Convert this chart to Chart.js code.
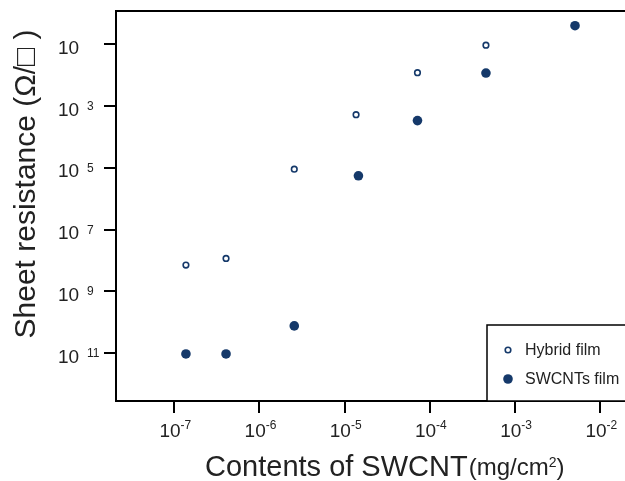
<!DOCTYPE html>
<html>
<head>
<meta charset="utf-8">
<script src="https://cdn.jsdelivr.net/npm/chart.js@4/dist/chart.umd.min.js"></script>
<style>
html,body{margin:0;padding:0;background:#fff;overflow:hidden;}
canvas{display:block;}
</style>
</head>
<body>
<canvas id="c" width="625" height="481"></canvas>
<script>
// ---- data ----
const hybridX = [1.37e-7, 4.05e-7, 2.56e-6, 1.36e-5, 7.15e-5, 4.55e-4];
const hybridY = [1.4e8, 8.5e7, 1.1e5, 1.9e3, 83, 10.7];
const swcntX  = [1.37e-7, 4.05e-7, 2.56e-6, 1.45e-5, 7.15e-5, 4.55e-4, 5.05e-3];
const swcntY  = [1.05e11, 1.05e11, 1.3e10, 1.8e5, 2.95e3, 85, 2.5];
const seriesNames = ['Hybrid film', 'SWCNTs film'];
const xTickValues = [1e-7, 1e-6, 1e-5, 1e-4, 1e-3, 1e-2];
const xTickExp = ['-7', '-6', '-5', '-4', '-3', '-2'];
const yTickValues = [1e1, 1e3, 1e5, 1e7, 1e9, 1e11];
const yTickExp = ['', '3', '5', '7', '9', '11'];
const yTitle = 'Sheet resistance (\u03A9/\u25A1 )';
const xTitleMain = 'Contents of SWCNT';
const xTitleUnit = ['(mg/cm', '2', ')'];

const NAVY = '#15396a';
const FONT = '"Liberation Sans", Arial, sans-serif';

const toPts = (xs, ys) => xs.map((x, i) => ({x: x, y: ys[i]}));

const labelPlugin = {
  id: 'labels',
  afterDraw(chart) {
    const ctx = chart.ctx;
    const xs = chart.scales.x, ys = chart.scales.y;
    ctx.save();
    ctx.fillStyle = '#222';
    ctx.textBaseline = 'alphabetic';
    // y tick labels
    yTickValues.forEach((v, i) => {
      const py = ys.getPixelForValue(v);
      ctx.font = '19px ' + FONT;
      ctx.textAlign = 'left';
      ctx.fillText('10', 58, py + 9.5);
      if (yTickExp[i]) {
        ctx.font = '12px ' + FONT;
        ctx.fillText(yTickExp[i], 87, py + 4);
      }
    });
    // x tick labels
    xTickValues.forEach((v, i) => {
      const px = xs.getPixelForValue(v);
      ctx.font = '19px ' + FONT;
      const w1 = ctx.measureText('10').width;
      ctx.font = '12px ' + FONT;
      const w2 = ctx.measureText(xTickExp[i]).width;
      const start = px - (w1 + w2) / 2 + 1;
      ctx.textAlign = 'left';
      ctx.font = '19px ' + FONT;
      ctx.fillText('10', start, 437);
      ctx.font = '12px ' + FONT;
      ctx.fillText(xTickExp[i], start + w1, 429);
    });
    // y title
    ctx.save();
    ctx.translate(35, 184);
    ctx.rotate(-Math.PI / 2);
    ctx.font = '30px ' + FONT;
    ctx.textAlign = 'center';
    ctx.fillText(yTitle, 0, 0);
    ctx.restore();
    // x title
    ctx.textAlign = 'left';
    ctx.font = '29px ' + FONT;
    let x0 = 205;
    ctx.fillText(xTitleMain, x0, 476);
    x0 += ctx.measureText(xTitleMain).width + 1;
    ctx.font = '24px ' + FONT;
    ctx.fillText(xTitleUnit[0], x0, 475);
    x0 += ctx.measureText(xTitleUnit[0]).width;
    ctx.font = '14px ' + FONT;
    ctx.fillText(xTitleUnit[1], x0, 467);
    x0 += ctx.measureText(xTitleUnit[1]).width;
    ctx.font = '24px ' + FONT;
    ctx.fillText(xTitleUnit[2], x0, 475);

    // legend
    ctx.strokeStyle = '#000';
    ctx.lineWidth = 1.5;
    ctx.fillStyle = '#fff';
    ctx.fillRect(487, 325, 160, 76);
    ctx.strokeRect(487, 325, 160, 76);
    const ds = chart.data.datasets;
    const rows = [350, 379];
    ds.forEach((d, i) => {
      ctx.beginPath();
      ctx.arc(508, rows[i], d.pointRadius, 0, Math.PI * 2);
      ctx.fillStyle = d.pointBackgroundColor;
      ctx.fill();
      if (d.pointBorderWidth > 0) {
        ctx.lineWidth = d.pointBorderWidth;
        ctx.strokeStyle = d.pointBorderColor;
        ctx.stroke();
      }
      ctx.fillStyle = '#222';
      ctx.font = '16px ' + FONT;
      ctx.textBaseline = 'middle';
      ctx.fillText(d.label, 525, rows[i] + 1);
      ctx.textBaseline = 'alphabetic';
    });
    ctx.restore();
  }
};

const axisGrid = {drawOnChartArea: false, drawTicks: true, tickLength: 12, color: '#000', lineWidth: 2};
const axisBorder = {display: true, color: '#000', width: 2};

new Chart(document.getElementById('c'), {
  type: 'scatter',
  data: {
    datasets: [
      {label: seriesNames[0], data: toPts(hybridX, hybridY), pointRadius: 2.8, pointBorderWidth: 1.6,
       pointBackgroundColor: '#fff', pointBorderColor: NAVY, showLine: false},
      {label: seriesNames[1], data: toPts(swcntX, swcntY), pointRadius: 4.8, pointBorderWidth: 0,
       pointBackgroundColor: NAVY, pointBorderColor: NAVY, showLine: false}
    ]
  },
  options: {
    responsive: false,
    animation: false,
    devicePixelRatio: 1,
    layout: {padding: 0, autoPadding: false},
    plugins: {legend: {display: false}, tooltip: {enabled: false}},
    scales: {
      x: {
        type: 'logarithmic', position: 'bottom', min: 2.07e-8, max: 1.95e-2,
        afterBuildTicks: s => { s.ticks = xTickValues.map(v => ({value: v})); },
        afterFit: s => { s.height = 80; },
        ticks: {display: false},
        grid: axisGrid, border: axisBorder
      },
      x2: {
        type: 'logarithmic', position: 'top', min: 2.07e-8, max: 1.95e-2,
        afterFit: s => { s.height = 11; },
        ticks: {display: false},
        grid: {display: false}, border: axisBorder
      },
      y: {
        type: 'logarithmic', position: 'left', reverse: true, min: 0.836, max: 3.5e12,
        afterBuildTicks: s => { s.ticks = yTickValues.map(v => ({value: v})); },
        afterFit: s => { s.width = 116; },
        ticks: {display: false},
        grid: axisGrid, border: axisBorder
      }
    }
  },
  plugins: [labelPlugin]
});
</script>
</body>
</html>
